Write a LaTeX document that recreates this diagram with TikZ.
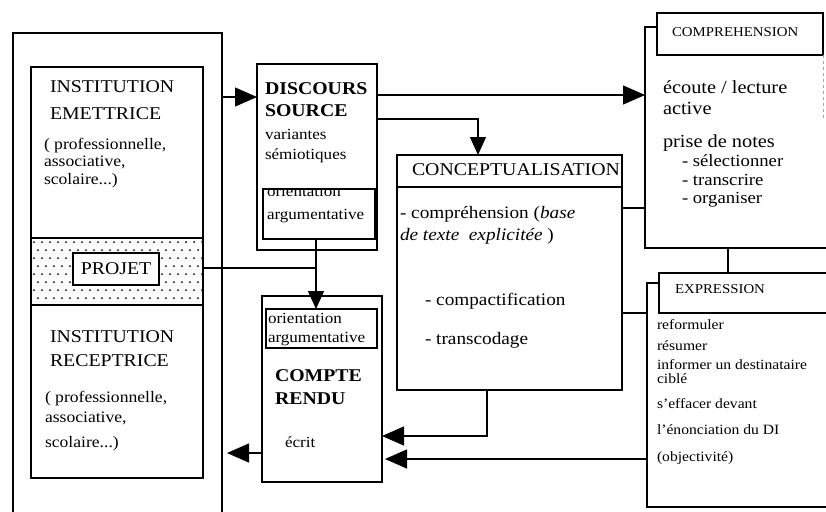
\documentclass[tikz,border=0pt]{standalone}
\usepackage{fontspec}
\setmainfont{Liberation Serif}[FakeStretch=1.1]
\usetikzlibrary{arrows.meta}
\newcommand{\fsz}[1]{\fontsize{#1}{#1}\selectfont}
\begin{document}
\begin{tikzpicture}[x=1pt,y=-1pt]
\useasboundingbox (0,0) rectangle (826,511);
\tikzset{
 rbox/.style={draw, line width=1.3pt, inner sep=0pt, outer sep=0pt, anchor=north west},
 ln/.style={line width=1.3pt},
 arr/.style={line width=1.3pt, -{Triangle[length=22pt,width=19pt]}},
 arrs/.style={line width=1.3pt, -{Triangle[length=18pt,width=16pt]}},
 tx/.style={anchor=mid west, inner sep=0pt, outer sep=0pt},
 txcap/.style={tx, font=\fsz{18}},
 txsub/.style={tx, font=\fsz{16}},
 txbcap/.style={tx, font=\fsz{18}\bfseries},
 txsmall/.style={tx, font=\fsz{15.5}},
 txbig/.style={tx, font=\fsz{17.5}},
 txrt/.style={tx, font=\fsz{18.5}},
 txrsub/.style={tx, font=\fsz{17}},
 txhd/.style={tx, font=\fsz{13.5}},
 txex/.style={tx, font=\fsz{14.2}},
}
% ---------- left column ----------
\node[rbox, minimum width=209pt, minimum height=520pt] (outer) at (13,33) {};
\node[rbox, minimum width=172pt, minimum height=411pt] (inner) at (31,67) {};
\node[rbox, minimum width=172pt, minimum height=67pt] (band) at (31,238) {};
\begin{scope}
\clip (band.north west) rectangle (band.south east);
\foreach \j in {0,...,7} \foreach \i in {0,...,21}
  {\fill ({34+8*\i+4*mod(\j,2)}, {242+8*\j}) circle (1pt);}
\end{scope}
\node[rbox, fill=white, minimum width=86pt, minimum height=32pt] (projet) at (73,253) {};
\node[font=\fsz{18}, inner sep=0pt] (projetT) at (projet.center) {PROJET};

\node[txcap] (i1) at (50,90) {INSTITUTION};
\node[txcap] (i2) at (50,117) {EMETTRICE};
\node[txsub] (i3) at (44,147) {( professionnelle,};
\node[txsub] (i4) at (44,164) {associative,};
\node[txsub] (i5) at (44,182) {scolaire...)};

\node[txcap] (r1) at (50,340) {INSTITUTION};
\node[txcap] (r2) at (50,364) {RECEPTRICE};
\node[txsub] (r3) at (45,400) {( professionnelle,};
\node[txsub] (r4) at (45,420) {associative,};
\node[txsub] (r5) at (45,445) {scolaire...)};

% ---------- discours source ----------
\node[rbox, minimum width=120pt, minimum height=186pt] (disc) at (257,64) {};
\node[txbcap] (d1) at (265,92) {DISCOURS};
\node[txbcap] (d2) at (265,114) {SOURCE};
\node[txsmall] (d3) at (265,137) {variantes};
\node[txsmall] (d4) at (265,157) {sémiotiques};
\node[rbox, minimum width=112pt, minimum height=50pt] (orient1) at (263,189) {};
\begin{scope}
\clip (orient1.north west) rectangle (orient1.south east);
\node[txsmall] (o1a) at (267,194) {orientation};
\end{scope}
\node[txsmall] (o1b) at (267,217) {argumentative};

% ---------- compte rendu ----------
\node[rbox, minimum width=120pt, minimum height=186pt] (compte) at (262,296) {};
\node[rbox, minimum width=111pt, minimum height=39pt] (orient2) at (266,309) {};
\node[txsmall] (o2a) at (268,321) {orientation};
\node[txsmall] (o2b) at (268,340) {argumentative};
\node[txbcap] (c1) at (275,379) {COMPTE};
\node[txbcap] (c2) at (275,402) {RENDU};
\node[txsmall] (c3) at (285,445) {écrit};

% ---------- conceptualisation ----------
\node[rbox, minimum width=225pt, minimum height=235pt] (concept) at (397,155) {};
\draw[ln] (concept.west |- 0,187) -- (concept.east |- 0,187);
\node[txcap] (k0) at (412,173) {CONCEPTUALISATION};
\node[txbig] (k1) at (400,216) {- compréhension (\textit{base}};
\node[txbig] (k2) at (400,238) {\textit{de texte\ \ explicitée} )};
\node[txbig] (k3) at (425,303) {- compactification};
\node[txbig] (k4) at (425,342) {- transcodage};

% ---------- comprehension ----------
\node[rbox, minimum width=166pt, minimum height=42pt] (comprH) at (657,13) {};
\node[txhd] (h1) at (672,34) {COMPREHENSION};
\coordinate (comprL) at (645,27);
\coordinate (comprB) at (645,248);
\draw[ln] (comprH.west |- comprL) -- (comprL) -- (comprB) -- (830,248);
\draw[gray!70, dashed, line width=0.7pt] (comprH.south east) -- ++(0,65);
\node[txrt] (p1) at (663,91) {écoute / lecture};
\node[txrt] (p2) at (663,112) {active};
\node[txrt] (p3) at (663,145) {prise de notes};
\node[txrsub] (p4) at (682,164) {- sélectionner};
\node[txrsub] (p5) at (682,183) {- transcrire};
\node[txrsub] (p6) at (682,201) {- organiser};

% ---------- expression ----------
\node[rbox, minimum width=200pt, minimum height=40pt] (exprH) at (659,273) {};
\node[txhd] (e0) at (675,291) {EXPRESSION};
\coordinate (exprL) at (647,283);
\coordinate (exprB) at (647,507);
\draw[ln] (exprH.west |- exprL) -- (exprL) -- (exprB) -- (830,507);
\node[txex] (e1) at (657,327) {reformuler};
\node[txex] (e2) at (657,348) {résumer};
\node[txex] (e3) at (657,367) {informer un destinataire};
\node[txex] (e4) at (657,381) {ciblé};
\node[txex] (e5) at (657,406) {s'effacer devant};
\node[txex] (e6) at (657,432) {l'énonciation du DI};
\node[txex] (e7) at (657,459) {(objectivité)};

% ---------- connectors ----------
\coordinate (jct) at (316,268);
\draw[arr] (outer.east |- 0,97) -- (disc.west |- 0,97);
\draw[arr] (disc.east |- 0,95) -- (comprL |- 0,95);
\draw[arrs] (disc.east |- 0,119) -| (478,0 |- concept.north);
\draw[arrs] (orient1.south -| jct) -- (orient2.north -| jct);
\draw[ln] (band.east |- jct) -- (jct);
\draw[ln] (concept.east |- 0,208) -- (comprL |- 0,208);
\draw[ln] (concept.east |- 0,313) -- (exprL |- 0,313);
\draw[arr] (487,0 |- concept.south) |- (compte.east |- 0,436);
\draw[arr] (exprL |- 0,459) -- ([xshift=3pt]compte.east |- 0,459);
\draw[arr] (compte.west |- 0,453) -- ([xshift=5pt]outer.east |- 0,453);
\draw[ln] (728,0 |- comprB) -- (728,0 |- exprH.north);
\end{tikzpicture}
\end{document}
